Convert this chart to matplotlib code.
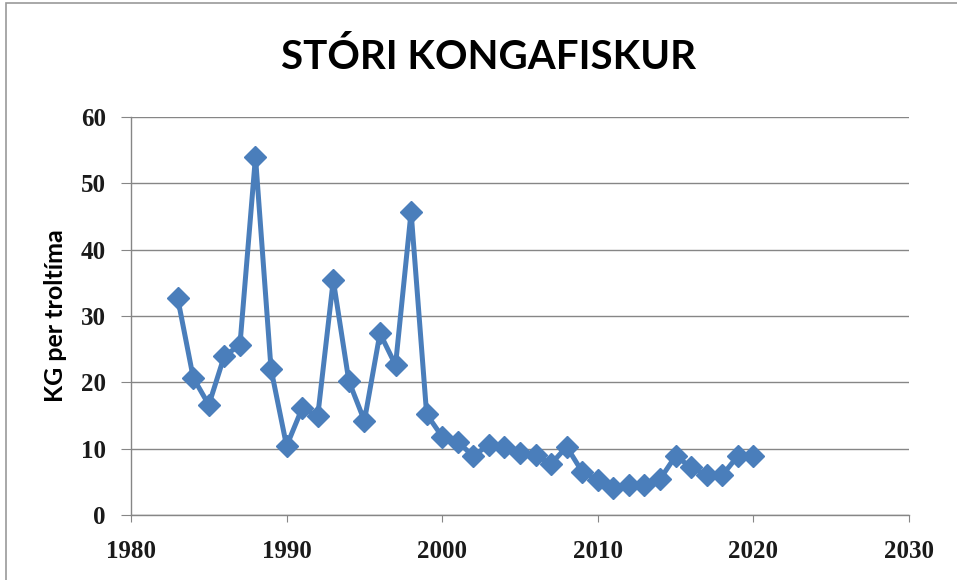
import matplotlib
matplotlib.use('Agg')
import matplotlib.pyplot as plt
from matplotlib.patches import Rectangle

# ar og KG per troltima, lesid av myndini
ar = [1983, 1984, 1985, 1986, 1987, 1988, 1989, 1990, 1991, 1992,
      1993, 1994, 1995, 1996, 1997, 1998, 1999, 2000, 2001, 2002,
      2003, 2004, 2005, 2006, 2007, 2008, 2009, 2010, 2011, 2012,
      2013, 2014, 2015, 2016, 2017, 2018, 2019, 2020]
kg = [32.7, 20.7, 16.6, 24.0, 25.6, 54.0, 22.0, 10.4, 16.1, 14.9,
      35.4, 20.2, 14.2, 27.4, 22.6, 45.7, 15.2, 11.8, 11.0, 8.9,
      10.6, 10.3, 9.4, 9.0, 7.7, 10.3, 6.5, 5.3, 4.1, 4.5,
      4.5, 5.4, 8.9, 7.2, 6.0, 6.0, 8.9, 8.9]

x_ticks = [1980, 1990, 2000, 2010, 2020, 2030]
y_ticks = [0, 10, 20, 30, 40, 50, 60]

W, H = 957, 580
fig = plt.figure(figsize=(W / 100, H / 100), dpi=100)

# ramma kring alt diagrammid
fig.patches.append(Rectangle((6 / W, -0.01), 1.0, (H - 3) / H + 0.01,
                             transform=fig.transFigure, fill=False,
                             edgecolor='#9a9a9a', linewidth=1.2))

ax = fig.add_axes([131 / W, 1 - 515 / H, (909 - 131) / W, (515 - 117) / H])

grey = '#868686'
ax.plot(ar, kg, color='#4A7EBB', linewidth=3.6, marker='D', markersize=11,
        markeredgecolor='#4A7EBB', markerfacecolor='#4A7EBB', zorder=3)

ax.set_xlim(1980, 2030)
ax.set_ylim(0, 60)
ax.set_xticks(x_ticks)
ax.set_yticks(y_ticks)
ax.yaxis.grid(True, color=grey, linewidth=1)
ax.set_axisbelow(True)

for s in ['top', 'right']:
    ax.spines[s].set_visible(False)
for s in ['left', 'bottom']:
    ax.spines[s].set_color(grey)
    ax.spines[s].set_linewidth(1)

ax.tick_params(axis='x', direction='out', length=5, color=grey, pad=13)
ax.tick_params(axis='y', direction='out', length=7, color=grey, pad=11)
for lab in ax.get_xticklabels() + ax.get_yticklabels():
    lab.set_fontfamily('Liberation Serif')
    lab.set_fontweight('bold')
    lab.set_fontsize(18)
    lab.set_color('#1a1a1a')

ax.set_ylabel('KG per troltíma', fontfamily='Lato', fontweight='bold',
              fontsize=18)
ax.yaxis.set_label_coords(-(131 - 67) / (909 - 131), 0.5)

fig.text(488 / W, 1 - 57 / H, 'STÓRI KONGAFISKUR', ha='center', va='center',
         fontfamily='Lato', fontweight='bold', fontsize=29)

fig.savefig('out.png', dpi=100)
